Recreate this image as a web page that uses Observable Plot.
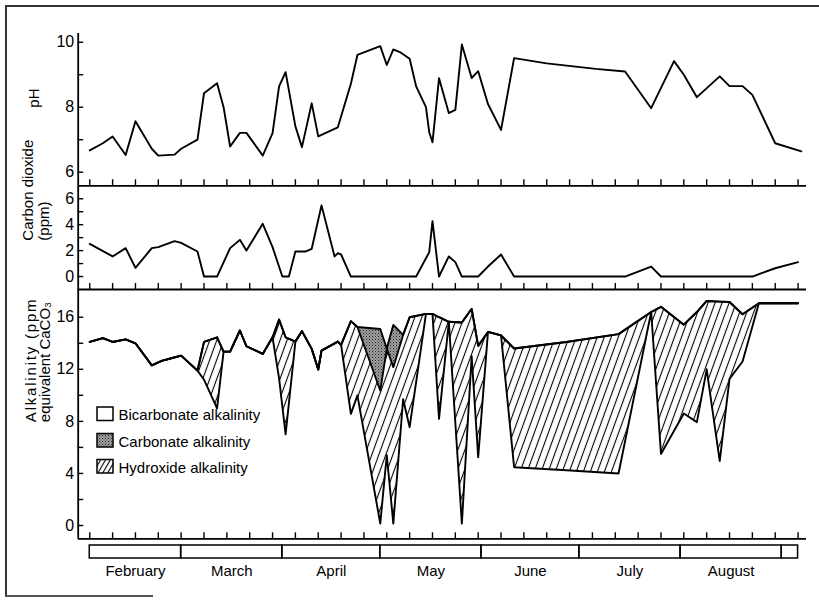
<!DOCTYPE html>
<html><head><meta charset="utf-8">
<script src="https://cdn.jsdelivr.net/npm/d3@7"></script>
<script src="https://cdn.jsdelivr.net/npm/@observablehq/plot@0.6"></script>
<style>
html,body{margin:0;padding:0;background:#fff;}
#wrap{position:relative;width:819px;height:601px;overflow:hidden;font-family:"Liberation Sans",Arial,sans-serif;background:#fff;}
#wrap > svg{position:absolute;left:0;top:0;overflow:visible;background:transparent;}
.border{position:absolute;left:5px;top:5px;width:820px;height:590px;border-top:2px solid #333;border-left:2px solid #333;}
.stub{position:absolute;left:5px;top:595px;width:148px;height:2px;background:#555;}
.legend{position:absolute;left:0;top:0;width:819px;height:601px;pointer-events:none;}
</style>
</head><body>
<svg width="0" height="0" style="position:absolute">
  <defs>
    <pattern id="hatch" patternUnits="userSpaceOnUse" width="6.6" height="10" patternTransform="rotate(20)">
      <line x1="3.3" y1="-1" x2="3.3" y2="11" stroke="#000" stroke-width="1.1"/>
    </pattern>
    <pattern id="hatchSmall" patternUnits="userSpaceOnUse" width="4.2" height="10" patternTransform="rotate(30)">
      <line x1="2.1" y1="-1" x2="2.1" y2="11" stroke="#000" stroke-width="1.1"/>
    </pattern>
    <pattern id="stipple" patternUnits="userSpaceOnUse" width="3" height="3">
      <rect width="3" height="3" fill="#a0a0a0"/>
      <rect x="0" y="0" width="1" height="1" fill="#222"/>
      <rect x="1.5" y="1.5" width="1" height="1" fill="#444"/>
    </pattern>
  </defs>
</svg>
<div id="wrap">
  <div class="border"></div>
  <div class="stub"></div>
</div>
<script>
// ---------- data (dates are month-day of one season) ----------
const phDates = ["02-01","02-05","02-08","02-12","02-15","02-20","02-22","02-27","03-01","03-06","03-08","03-12","03-14","03-16","03-19","03-21","03-26","03-29","03-31","04-02","04-05","04-07","04-10","04-12","04-18","04-22","04-24","05-01","05-03","05-05","05-07","05-10","05-12","05-15","05-16","05-17","05-19","05-22","05-24","05-26","05-29","05-31","06-03","06-07","06-11","06-21","07-06","07-15","07-23","07-30","08-02","08-06","08-13","08-16","08-20","08-23","08-30","09-07"];
const phValues = [6.67,6.89,7.10,6.53,7.57,6.72,6.51,6.54,6.72,7.00,8.43,8.74,8.00,6.79,7.21,7.21,6.51,7.20,8.64,9.08,7.41,6.77,8.12,7.10,7.38,8.72,9.61,9.88,9.30,9.78,9.70,9.49,8.64,8.00,7.23,6.92,8.89,7.82,7.92,9.93,8.90,9.11,8.10,7.30,9.51,9.35,9.18,9.10,7.97,9.42,9.00,8.31,8.95,8.65,8.65,8.38,6.89,6.64];

const co2Dates = ["02-01","02-08","02-12","02-15","02-20","02-22","02-27","03-01","03-06","03-08","03-12","03-16","03-19","03-21","03-26","03-29","04-01","04-03","04-05","04-08","04-10","04-13","04-17","04-18","04-19","04-22","05-12","05-16","05-17","05-19","05-22","05-24","05-26","05-31","06-03","06-07","06-11","07-15","07-23","07-26","08-23","08-30","09-06"];
const co2Values = [2.52,1.55,2.19,0.67,2.19,2.27,2.73,2.60,1.93,0,0,2.19,2.83,2.00,4.07,2.27,0,0,1.93,1.93,2.14,5.49,1.55,1.80,1.70,0,0,1.88,4.27,0,1.55,1.11,0,0,0.77,1.70,0,0,0.77,0,0,0.64,1.11];

const alkDates = ["02-01","02-05","02-08","02-12","02-15","02-20","02-23","02-26","03-01","03-06","03-08","03-12","03-14","03-16","03-19","03-21","03-26","03-29","03-31","04-02","04-05","04-07","04-10","04-12","04-13","04-18","04-19","04-22","04-24","05-01","05-03","05-05","05-08","05-10","05-15","05-17","05-19","05-22","05-26","05-29","05-31","06-03","06-07","06-11","06-27","07-13","07-23","07-26","08-02","08-06","08-09","08-13","08-16","08-20","08-25","09-06"];
const alkBicarbonate = [14.1,14.4,14.1,14.3,14.0,12.3,12.65,12.85,13.05,11.9,11.2,9.0,13.36,13.36,14.98,13.77,13.18,14.46,11.3,7.0,14.13,14.93,13.57,11.98,13.44,14.13,13.88,8.58,10.0,0.15,5.4,0.15,9.7,7.55,16.26,16.26,8.19,15.65,0.15,13.0,5.25,14.87,14.6,4.48,4.25,4.0,16.4,5.5,8.6,7.94,12.0,4.95,11.27,12.6,17.07,17.07];
const alkHydroxide = [0,0,0,0,0,0,0,0,0,0,2.9,5.46,0,0,0,0,0,0,4.52,7.46,0,0,0,0,0,0,0,7.12,5.25,10.22,8.2,12.01,4.94,8.45,0,0,7.81,0,15.45,3.64,8.55,0,0,9.12,9.85,10.7,0,11.3,6.83,8.46,5.25,12.25,5.9,3.63,0,0];
const alkCarbonate = [0,0,0,0,0,0,0,0,0,0,0,0,0,0,0,0,0,0,0,0,0,0,0,0,0,0,0,0,0,4.73,0,3.25,0,0,0,0,0,0,0,0,0,0,0,0,0,0,0,0,0,0,0,0,0,0,0,0];

const monthNames = ["February","March","April","May","June","July","August"];
const monthStarts = ["02-01","03-01","04-01","05-01","06-01","07-01","08-01","09-01"];
const seasonEndDay = "09-06";

const phLabelTicks = [6, 8, 10], phMinorTicks = [7, 9];
const co2LabelTicks = [0, 2, 4, 6], co2MinorTicks = [1, 3, 5];
const alkLabelTicks = [0, 4, 8, 12, 16], alkMinorTicks = [2, 6, 10, 14];

const legendLabels = ["Bicarbonate alkalinity", "Carbonate alkalinity", "Hydroxide alkalinity"];

// ---------- build ----------
const parse = s => new Date(`1970-${s}T00:00:00Z`);
const feb1 = parse(monthStarts[0]);
const seasonEnd = parse(seasonEndDay);
const axisStart = d3.utcHour.offset(feb1, -85);
const axisEnd = d3.utcHour.offset(seasonEnd, 62);
const weeks = d3.utcDay.range(feb1, d3.utcDay.offset(seasonEnd, 1), 7);

const ph = phDates.map((d, i) => ({date: parse(d), value: phValues[i]}));
const co2 = co2Dates.map((d, i) => ({date: parse(d), value: co2Values[i]}));
const alk = alkDates.map((d, i) => ({
  date: parse(d),
  bicarb: alkBicarbonate[i],
  hydroxide: alkHydroxide[i],
  carbonate: alkCarbonate[i],
  total: alkBicarbonate[i] + alkHydroxide[i] + alkCarbonate[i]
}));
const monthBoxes = monthStarts.map((s, i) => ({
  name: monthNames[i] || "",
  start: parse(s),
  end: i + 1 < monthStarts.length ? parse(monthStarts[i + 1]) : seasonEnd
}));

const W = 819, H = 601, L = 77.7, R = 13;
const FONT = "'Liberation Sans', Arial, sans-serif";
const lineStyle = {stroke: "#000", strokeWidth: 1.9, strokeLinejoin: "round", strokeLinecap: "round"};

function panel({top, bottom, yDomain, labelTicks, minorTicks, title, titleDx, titleDy, lineHeight, marks}) {
  const frameH = bottom - top, frameW = W - L - R;
  return Plot.plot({
    width: W, height: H,
    marginLeft: L, marginRight: R, marginTop: top, marginBottom: H - bottom,
    style: {background: "transparent", overflow: "visible", fontFamily: FONT, fontSize: "16px", color: "#000"},
    x: {type: "utc", domain: [axisStart, axisEnd], axis: null},
    y: {domain: yDomain, ticks: labelTicks, tickSize: 0, tickPadding: 4, label: null, tickFormat: d => String(d)},
    marks: [
      ...marks,
      Plot.tickY([...labelTicks, ...minorTicks], {y: d => d, insetRight: frameW - 5.5, stroke: "#000", strokeWidth: 1.4}),
      Plot.tickX(weeks, {x: d => d, insetTop: frameH - 6, stroke: "#000", strokeWidth: 1.4}),
      Plot.ruleY([yDomain[0]], {stroke: "#000", strokeWidth: 1.8}),
      Plot.ruleX([axisStart], {stroke: "#000", strokeWidth: 1.8}),
      Plot.text([title], {frameAnchor: "left", dx: titleDx, dy: titleDy, rotate: -90, fontSize: 15, lineHeight, fill: "#000"})
    ]
  });
}

const wrap = document.getElementById("wrap");

wrap.appendChild(panel({
  top: 33, bottom: 185.3, yDomain: [5.58, 10.27],
  labelTicks: phLabelTicks, minorTicks: phMinorTicks,
  title: "pH", titleDx: -44, titleDy: -2, lineHeight: 1,
  marks: [Plot.line(ph, {x: "date", y: "value", ...lineStyle})]
}));

wrap.appendChild(panel({
  top: 185.3, bottom: 289, yDomain: [-1, 7],
  labelTicks: co2LabelTicks, minorTicks: co2MinorTicks,
  title: "Carbon dioxide\n(ppm)", titleDx: -42, titleDy: 3, lineHeight: 1.07,
  marks: [Plot.line(co2, {x: "date", y: "value", ...lineStyle})]
}));

const alkSvg = panel({
  top: 289, bottom: 538.3, yDomain: [-1.02, 18.13],
  labelTicks: alkLabelTicks, minorTicks: alkMinorTicks,
  title: "Alkalinity (ppm\nequivalent CaCO\u2083", titleDx: -40, titleDy: 8, lineHeight: 0.97,
  marks: [
    Plot.areaY(alk, {x: "date", y1: "bicarb", y2: d => d.bicarb + d.hydroxide, fill: "url(#hatch)"}),
    Plot.areaY(alk, {x: "date", y1: d => d.bicarb + d.hydroxide, y2: "total", fill: "url(#stipple)"}),
    Plot.line(alk, {x: "date", y: "bicarb", ...lineStyle}),
    Plot.line(alk, {x: "date", y: d => d.bicarb + d.hydroxide, ...lineStyle}),
    Plot.line(alk, {x: "date", y: "total", ...lineStyle})
  ]
});
wrap.appendChild(alkSvg);
// the first title line is set wide in the original
d3.select(alkSvg).selectAll("tspan").filter(function() { return this.textContent.startsWith("Alkalinity"); })
  .attr("letter-spacing", "1.8px");

// month boxes
wrap.appendChild(Plot.plot({
  width: W, height: H,
  marginLeft: L, marginRight: R, marginTop: 545, marginBottom: H - 558,
  style: {background: "transparent", overflow: "visible", fontFamily: FONT, fontSize: "15px", color: "#000"},
  x: {type: "utc", domain: [axisStart, axisEnd], axis: null},
  marks: [
    Plot.rect(monthBoxes, {x1: "start", x2: "end", fill: "none", stroke: "#000", strokeWidth: 1.5}),
    Plot.text(monthBoxes.filter(d => d.name), {
      x: d => new Date((+d.start + +d.end) / 2), text: "name",
      frameAnchor: "bottom", dy: 17, fontSize: 15, fill: "#000"
    })
  ]
}));

// legend
const fills = ["#fff", "url(#stipple)", "url(#hatchSmall)"];
const legend = d3.select(wrap).append("svg").attr("class", "legend").attr("width", W).attr("height", H)
  .style("font-family", FONT).style("font-size", "15px");
const rowTop = [407, 433.5, 459.5];
legendLabels.forEach((lab, i) => {
  legend.append("rect").attr("x", 97).attr("y", rowTop[i]).attr("width", 16).attr("height", 13.5)
    .attr("fill", fills[i]).attr("stroke", "#000").attr("stroke-width", 1.5);
  legend.append("text").attr("x", 118.5).attr("y", rowTop[i] + 13).attr("fill", "#000").text(lab);
});
</script>
</body></html>
